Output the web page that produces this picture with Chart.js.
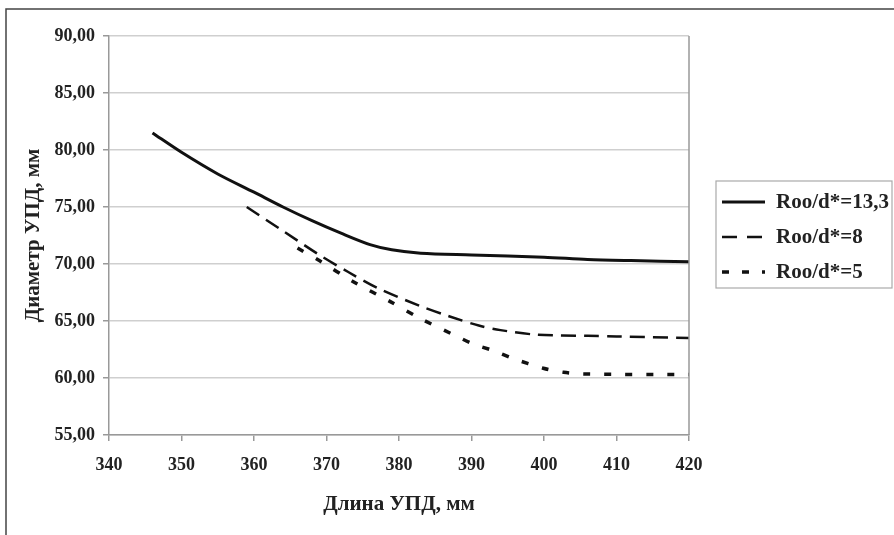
<!DOCTYPE html>
<html>
<head>
<meta charset="utf-8">
<script src="https://cdn.jsdelivr.net/npm/chart.js@4/dist/chart.umd.min.js"></script>
<style>
  html, body { margin: 0; padding: 0; background: #fff; }
  #wrap { width: 894px; height: 535px; position: relative; }
</style>
</head>
<body>
<div id="wrap"><canvas id="my-chart" width="894" height="535"></canvas></div>
<script>
// data
const xTicks = [340, 350, 360, 370, 380, 390, 400, 410, 420];
const yTicks = [55, 60, 65, 70, 75, 80, 85, 90];

const labels = ['Roo/d*=13,3', 'Roo/d*=8', 'Roo/d*=5'];

const len133 = [346, 350, 355, 360, 364, 368, 372, 376, 379, 383, 390, 400, 406, 412, 420];
const diam133 = [81.5, 79.8, 77.9, 76.3, 75.0, 73.8, 72.7, 71.7, 71.25, 70.95, 70.8, 70.6, 70.4, 70.3, 70.2];

const len8 = [359, 364, 369, 373, 377, 383, 387, 391, 394, 399, 406, 410, 420];
const diam8 = [75.0, 72.9, 70.8, 69.3, 67.9, 66.3, 65.4, 64.6, 64.2, 63.8, 63.7, 63.65, 63.5];

const len5 = [366, 369, 373.7, 378.8, 383, 387.5, 390.2, 393, 395.8, 399.9, 402.7, 405.4, 420];
const diam5 = [71.4, 70.3, 68.45, 66.7, 65.2, 63.8, 63.0, 62.4, 61.7, 60.85, 60.5, 60.35, 60.3];

const font = "'Liberation Serif', 'Times New Roman', serif";

function pairs(xs, ys) {
  return xs.map((x, i) => ({ x: x, y: ys[i] }));
}

// frame, plot border and legend box
const extras = {
  id: 'extras',
  afterDraw(chart) {
    const ctx = chart.ctx;
    const a = chart.chartArea;
    ctx.save();
    // outer frame (left + top visible)
    ctx.strokeStyle = '#444';
    ctx.lineWidth = 1.5;
    ctx.beginPath();
    ctx.moveTo(6, 535);
    ctx.lineTo(6, 9);
    ctx.lineTo(894, 9);
    ctx.stroke();
    // right edge of plot
    ctx.strokeStyle = '#999';
    ctx.lineWidth = 1.5;
    ctx.beginPath();
    ctx.moveTo(a.right, a.top);
    ctx.lineTo(a.right, a.bottom);
    ctx.stroke();

    // legend
    ctx.strokeStyle = '#aaa';
    ctx.lineWidth = 1.2;
    ctx.strokeRect(716, 181, 176, 107);
    ctx.font = 'bold 21px ' + font;
    ctx.textBaseline = 'middle';
    ctx.fillStyle = '#222';
    chart.data.datasets.forEach((ds, i) => {
      const y = 202 + i * 35;
      ctx.strokeStyle = ds.borderColor;
      ctx.lineWidth = ds.borderWidth;
      ctx.setLineDash(ds.legendDash || []);
      ctx.beginPath();
      ctx.moveTo(722, y);
      ctx.lineTo(765, y);
      ctx.stroke();
      ctx.setLineDash([]);
      ctx.fillText(ds.label, 776, y + 1);
    });
    ctx.restore();
  }
};

const ctx = document.getElementById('my-chart').getContext('2d');
const chart = new Chart(ctx, {
  type: 'line',
  data: {
    datasets: [
      {
        label: labels[0],
        data: pairs(len133, diam133),
        borderColor: '#111',
        borderWidth: 3,
        tension: 0.3
      },
      {
        label: labels[1],
        data: pairs(len8, diam8),
        borderColor: '#111',
        borderWidth: 2.5,
        borderDash: [15, 8],
        legendDash: [15, 10],
        tension: 0.3
      },
      {
        label: labels[2],
        data: pairs(len5, diam5),
        borderColor: '#111',
        borderWidth: 3.5,
        borderDash: [7, 14],
        legendDash: [7, 13],
        tension: 0.3
      }
    ]
  },
  options: {
    responsive: false,
    animation: false,
    elements: { point: { radius: 0 } },
    layout: { padding: { left: 21, right: 205, top: 36, bottom: 18 } },
    plugins: { legend: { display: false }, tooltip: { enabled: false } },
    scales: {
      x: {
        type: 'linear',
        min: 340,
        max: 420,
        afterBuildTicks: s => { s.ticks = xTicks.map(v => ({ value: v })); },
        ticks: {
          color: '#222',
          padding: 14,
          font: { family: font, size: 18, weight: 'bold' }
        },
        grid: { drawOnChartArea: false, tickLength: 6, color: '#999', lineWidth: 1.5 },
        border: { color: '#999', width: 1.5 },
        title: {
          display: true,
          text: 'Длина УПД, мм',
          color: '#222',
          padding: { top: 12, bottom: 0 },
          font: { family: font, size: 21, weight: 'bold' }
        },
        afterFit: s => { s.height = 82; }
      },
      y: {
        min: 55,
        max: 90,
        afterBuildTicks: s => { s.ticks = yTicks.map(v => ({ value: v })); },
        ticks: {
          color: '#222',
          padding: 8,
          font: { family: font, size: 18, weight: 'bold' },
          callback: v => v.toFixed(2).replace('.', ',')
        },
        grid: { color: '#cfcfcf', tickColor: '#999', lineWidth: 1.5, tickLength: 6 },
        border: { color: '#999', width: 1.5 },
        title: {
          display: true,
          text: 'Диаметр УПД, мм',
          color: '#222',
          padding: { top: 0, bottom: 8 },
          font: { family: font, size: 21, weight: 'bold' }
        },
        afterFit: s => { s.width = 88; }
      }
    }
  },
  plugins: [extras]
});
</script>
</body>
</html>
